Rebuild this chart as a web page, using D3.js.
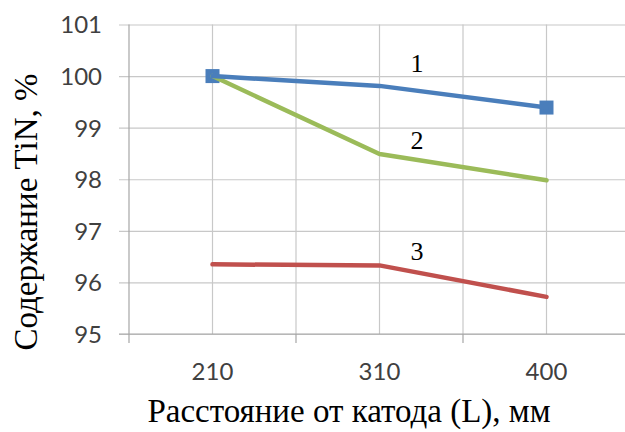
<!DOCTYPE html>
<html>
<head>
<meta charset="utf-8">
<script src="https://cdn.jsdelivr.net/npm/d3@7/dist/d3.min.js"></script>
<style>
  html, body { margin: 0; padding: 0; background: #fff; }
  svg { display: block; }
</style>
</head>
<body>
<svg id="chart" width="625" height="432"></svg>
<script>
// Categories: distance from cathode, mm
const categories = ["210", "310", "400"];
// TiN content, % for each curve
const series1 = [100.0, 99.81, 99.39];
const series2 = [100.0, 98.49, 97.98];
const series3 = [96.35, 96.33, 95.72];
const seriesLabels = ["1", "2", "3"];
const yTicks = [95, 96, 97, 98, 99, 100, 101];

const svg = d3.select("#chart");
const plotLeft = 129, plotRight = 630, plotTop = 24.5, plotBottom = 334;

const x = d3.scalePoint().domain(categories).range([plotLeft, plotRight]).padding(0.5);
const y = d3.scaleLinear().domain([95, 101]).range([plotBottom, plotTop]);
const step = x.step();

const gridColor = "#c8c8c8";
const axisColor = "#a6a6a6";

// Horizontal grid lines with short tick stubs on the left
const yAxis = d3.axisLeft(y).tickValues(yTicks).tickSize(-(plotRight - plotLeft)).tickSizeOuter(0).tickPadding(18).tickFormat(d3.format("d"));
const gy = svg.append("g").attr("transform", `translate(${plotLeft},0)`).call(yAxis);
gy.select(".domain").remove();
gy.selectAll(".tick line").attr("stroke", gridColor).attr("stroke-width", 1.2).attr("x1", -10);
gy.selectAll(".tick text")
  .attr("font-family", "Lato, 'Open Sans', sans-serif")
  .attr("font-size", 24).attr("fill", "#404040").attr("x", -27).attr("dy", "0.35em");

// Vertical grid lines at category centres and band boundaries
const vLines = [];
categories.forEach(c => { vLines.push(x(c)); vLines.push(x(c) + step / 2); });
svg.append("g").selectAll("line").data(vLines).join("line")
  .attr("x1", d => d).attr("x2", d => d)
  .attr("y1", plotTop).attr("y2", plotBottom)
  .attr("stroke", gridColor).attr("stroke-width", 1.2);

// Axis lines
svg.append("line").attr("x1", plotLeft).attr("x2", plotLeft).attr("y1", plotTop).attr("y2", plotBottom + 9)
  .attr("stroke", axisColor).attr("stroke-width", 1.2);
svg.append("line").attr("x1", plotLeft - 10).attr("x2", plotRight).attr("y1", plotBottom).attr("y2", plotBottom)
  .attr("stroke", axisColor).attr("stroke-width", 1.2);
// Category boundary ticks below the axis
svg.append("g").selectAll("line").data(categories.slice(0, -1)).join("line")
  .attr("x1", d => x(d) + step / 2).attr("x2", d => x(d) + step / 2)
  .attr("y1", plotBottom).attr("y2", plotBottom + 9)
  .attr("stroke", axisColor).attr("stroke-width", 1.2);

// Category labels
svg.append("g").selectAll("text").data(categories).join("text")
  .attr("x", d => x(d)).attr("y", 380)
  .attr("text-anchor", "middle")
  .attr("font-family", "Lato, 'Open Sans', sans-serif")
  .attr("font-size", 24).attr("fill", "#404040")
  .text(d => d);

// Lines
const line = d3.line().x((d, i) => x(categories[i])).y(d => y(d));
const seriesDefs = [
  { values: series3, color: "#c0504d" },
  { values: series2, color: "#9bbb59" },
  { values: series1, color: "#4a7ebb" }
];

// Square markers on curve 1 at the end points
const markerIdx = [0, 2];
svg.append("g").selectAll("rect").data(markerIdx).join("rect")
  .attr("x", i => x(categories[i]) - 7).attr("y", i => y(series1[i]) - 7)
  .attr("width", 14).attr("height", 14)
  .attr("fill", "#4a7ebb");

seriesDefs.forEach(s => {
  svg.append("path").datum(s.values)
    .attr("d", line)
    .attr("fill", "none")
    .attr("stroke", s.color)
    .attr("stroke-width", 4.5)
    .attr("stroke-linejoin", "round")
    .attr("stroke-linecap", "round");
});

// Curve numbers
const labelPos = [
  { text: seriesLabels[0], cat: "310", v: 100.26 },
  { text: seriesLabels[1], cat: "310", v: 98.76 },
  { text: seriesLabels[2], cat: "310", v: 96.62 }
];
svg.append("g").selectAll("text").data(labelPos).join("text")
  .attr("x", d => x(d.cat) + step * 0.225)
  .attr("y", d => y(d.v))
  .attr("dy", "0.35em")
  .attr("text-anchor", "middle")
  .attr("font-family", "'Liberation Serif', 'Times New Roman', serif")
  .attr("font-size", 26).attr("fill", "#000")
  .text(d => d.text);

// Axis titles
svg.append("text")
  .attr("x", 349).attr("y", 422)
  .attr("text-anchor", "middle")
  .attr("font-family", "'Liberation Serif', 'Times New Roman', serif")
  .attr("font-size", 33).attr("fill", "#000")
  .text("Расстояние от катода (L), мм");

svg.append("text")
  .attr("transform", "translate(37,212) rotate(-90)")
  .attr("text-anchor", "middle")
  .attr("font-family", "'Liberation Serif', 'Times New Roman', serif")
  .attr("font-size", 33).attr("fill", "#000")
  .text("Содержание TiN, %");
</script>
</body>
</html>
